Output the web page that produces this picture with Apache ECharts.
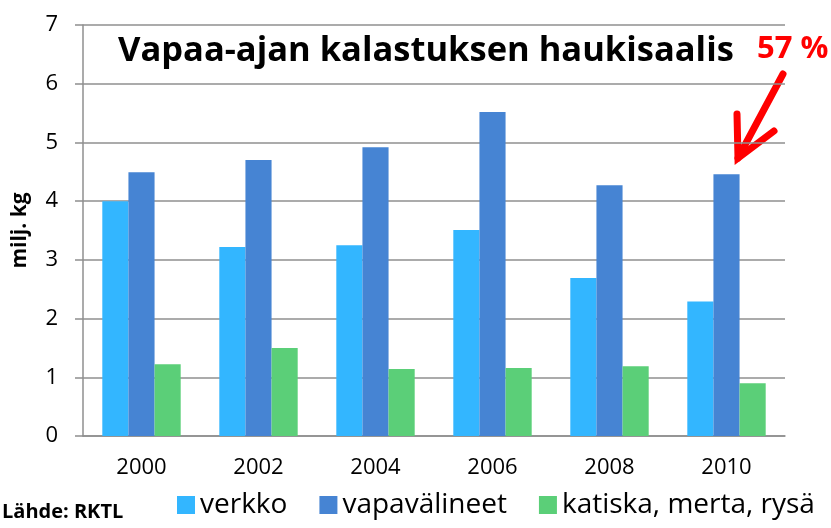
<!DOCTYPE html>
<html>
<head>
<meta charset="utf-8">
<script src="https://cdn.jsdelivr.net/npm/echarts@6/dist/echarts.min.js"></script>
<style>
  html, body { margin: 0; padding: 0; background: #fff; }
  #chart { width: 831px; height: 528px; }
</style>
</head>
<body>
<div id="chart"></div>
<script>
const years = ['2000', '2002', '2004', '2006', '2008', '2010']
const seriesNames = ['verkko', 'vapavälineet', 'katiska, merta, rysä']
const verkko = [4.0, 3.22, 3.25, 3.51, 2.69, 2.29]
const vapavalineet = [4.49, 4.70, 4.92, 5.52, 4.27, 4.46]
const katiska = [1.22, 1.50, 1.14, 1.16, 1.19, 0.90]
const yTicks = [0, 1, 2, 3, 4, 5, 6, 7]

const font = 'Open Sans, sans-serif'
const grey = '#8f8f8f'

const barSeries = (name, data, color) => ({
  name: name,
  type: 'bar',
  data: data,
  barGap: '0%',
  barCategoryGap: '33%',
  itemStyle: { color: color },
  animation: false
})

const chart = echarts.init(document.getElementById('chart'))
chart.setOption({
  animation: false,
  grid: { left: 83, right: 46, top: 25, bottom: 92 },
  legend: {
    data: seriesNames,
    left: 172,
    top: 486,
    itemWidth: 18,
    itemHeight: 18,
    itemGap: 32,
    icon: 'rect',
    textStyle: { fontFamily: font, fontSize: 28, color: '#000' }
  },
  xAxis: {
    type: 'category',
    data: years,
    axisLine: { lineStyle: { color: grey, width: 1.5 } },
    axisTick: { length: 8, lineStyle: { color: grey, width: 1.5 } },
    axisLabel: { fontFamily: font, fontSize: 22, color: '#000', margin: 21 }
  },
  yAxis: {
    type: 'value',
    min: yTicks[0],
    max: yTicks[yTicks.length - 1],
    interval: 1,
    name: 'milj. kg',
    nameLocation: 'middle',
    nameGap: 52,
    nameTextStyle: { fontFamily: font, fontSize: 21, fontWeight: 'bold', color: '#000' },
    axisLine: { show: true, lineStyle: { color: grey, width: 1.5 } },
    axisTick: { show: true, length: 8, lineStyle: { color: grey, width: 1.5 } },
    axisLabel: { fontFamily: font, fontSize: 22, color: '#000', margin: 25 },
    splitLine: { lineStyle: { color: grey, width: 1.5 } }
  },
  series: [
    barSeries(seriesNames[0], verkko, '#33b6ff'),
    barSeries(seriesNames[1], vapavalineet, '#4684d3'),
    barSeries(seriesNames[2], katiska, '#5bcf78')
  ],
  graphic: [
    {
      type: 'text',
      left: 118,
      top: 34,
      style: {
        text: 'Vapaa-ajan kalastuksen haukisaalis',
        fontFamily: font,
        fontSize: 34.5,
        fontWeight: 'bold',
        fill: '#000'
      }
    },
    {
      type: 'text',
      left: 757,
      top: 34,
      style: {
        text: '57 %',
        fontFamily: font,
        fontSize: 31,
        fontWeight: 'bold',
        fill: '#ff0000'
      }
    },
    {
      type: 'polyline',
      shape: { points: [[783, 74], [738, 158]] },
      style: { stroke: '#ff0000', lineWidth: 7, lineCap: 'round' }
    },
    {
      type: 'polyline',
      shape: { points: [[737, 114], [738, 158], [774, 131]] },
      style: { stroke: '#ff0000', lineWidth: 7, lineCap: 'round', lineJoin: 'miter', fill: null }
    },
    {
      type: 'text',
      left: 2,
      top: 502,
      style: {
        text: 'Lähde: RKTL',
        fontFamily: font,
        fontSize: 20,
        fontWeight: 'bold',
        fill: '#000'
      }
    }
  ]
})
</script>
</body>
</html>
